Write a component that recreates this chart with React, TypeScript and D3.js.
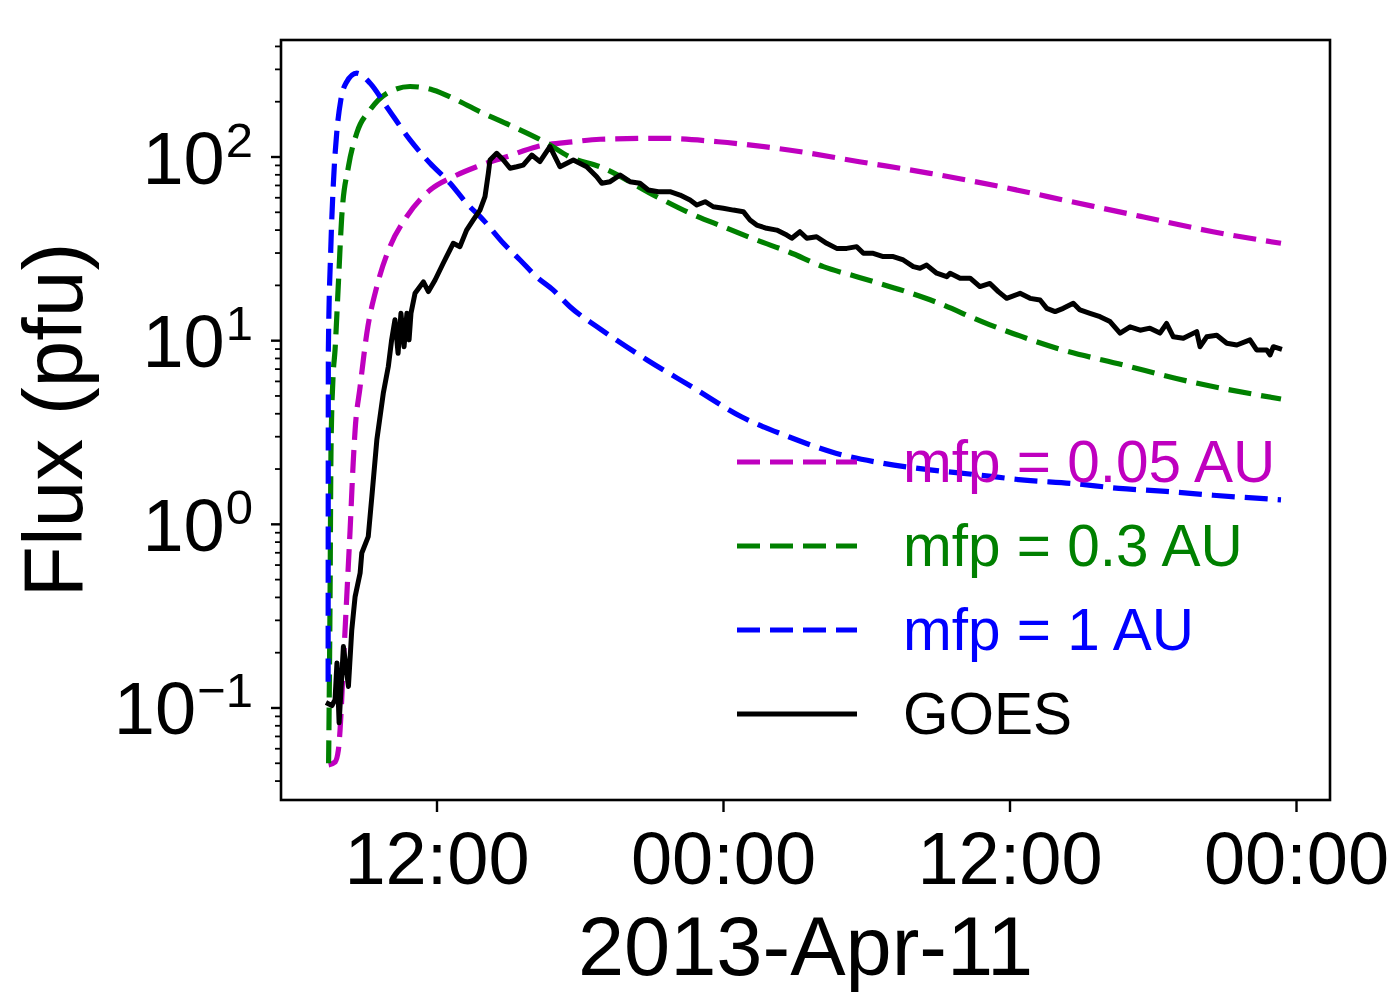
import React from "react";
import * as d3 from "d3";

// time axis: hours since 2013-04-11 00:00 UT
const T0 = Date.UTC(2013, 3, 11);
const hoursToDate = (h: number) => new Date(T0 + h * 3600e3);

// [hours, flux (pfu)]
const mfp005: [number, number][] = [
  [7.46, 0.049], [7.73, 0.0508], [7.87, 0.0591], [7.94, 0.0759], [8.08, 0.176], [8.22, 0.404],
  [8.36, 0.931], [8.49, 2.16], [8.57, 3.26], [8.78, 5.62], [9.06, 10.96], [9.48, 19.7],
  [10.03, 32.5], [10.73, 47.3], [11.71, 66.1], [12.68, 78.1], [13.66, 88.5], [14.92, 100.4],
  [16.18, 113.8], [17.71, 121.1], [18.83, 124.9], [21.4, 126.4], [23.77, 121.1], [26.73, 109.2],
  [29.69, 94.3], [32.65, 81.5], [35.62, 68.9], [38.58, 57.1], [41.55, 47.3], [44.5, 39.2],
  [47.35, 33.9],
];

const mfp03: [number, number][] = [
  [7.46, 0.05], [7.52, 0.387], [7.56, 2.54], [7.64, 6.11], [7.73, 8.9], [7.87, 20.6],
  [8.01, 47.3], [8.29, 88.5], [8.64, 135], [9.19, 180], [9.89, 222], [10.87, 242],
  [11.83, 232], [12.83, 204], [13.94, 173], [15.06, 149], [16.6, 119], [17.57, 100],
  [18.83, 88.5], [21.2, 60.8], [22.6, 49.4], [23.99, 41.7], [25.39, 35.3], [26.74, 30.4],
  [28.18, 25.3], [29.69, 22.1], [32.65, 16.7], [35.16, 12.2], [37.96, 9.09], [40.75, 7.37],
  [43.54, 5.98], [47.35, 4.81],
];

const mfp1: [number, number][] = [
  [7.44, 0.139], [7.45, 8.9], [7.55, 31.2], [7.66, 72.1], [7.8, 135], [7.97, 204],
  [8.19, 253], [8.64, 286], [9.19, 253], [9.89, 188], [10.87, 124], [11.71, 92.4],
  [12.55, 72.0], [13.24, 56.0], [13.94, 45.4], [14.78, 33.9], [15.48, 27.5], [16.18, 22.2],
  [16.86, 18.9], [17.57, 15.3], [18.83, 11.6], [20.8, 7.85], [22.76, 5.52], [24.75, 3.85],
  [26.73, 3.0], [28.7, 2.44], [30.68, 2.15], [32.65, 1.98], [34.64, 1.86], [36.61, 1.74],
  [38.58, 1.67], [40.56, 1.57], [42.53, 1.51], [44.51, 1.44], [47.35, 1.36],
];

const goes: [number, number][] = [
  [7.35, 0.107], [7.6, 0.103], [7.73, 0.111], [7.81, 0.176], [7.9, 0.083], [8.08, 0.216],
  [8.29, 0.131], [8.43, 0.266], [8.57, 0.404], [8.78, 0.543], [8.85, 0.698], [9.12, 0.857],
  [9.27, 1.41], [9.48, 2.88], [9.75, 5.17], [9.96, 7.22], [10.1, 10.1], [10.24, 13.0],
  [10.37, 8.53], [10.49, 14.1], [10.62, 9.27], [10.74, 14.1], [10.83, 10.1], [10.91, 14.1],
  [11.08, 18.1], [11.43, 20.9], [11.64, 18.5], [11.92, 21.4], [12.26, 26.4], [12.68, 33.9],
  [12.96, 32.5], [13.24, 40.0], [13.52, 45.4], [13.8, 51.4], [14.01, 60.8], [14.15, 81.5],
  [14.22, 96.3], [14.5, 104.7], [14.78, 96.3], [15.06, 86.8], [15.34, 88.5], [15.61, 90.4],
  [15.97, 102.5], [16.31, 94.3], [16.73, 113.8], [17.15, 88.5], [17.71, 96.3], [18.27, 88.5],
  [18.69, 78.1], [18.9, 71.9], [19.25, 73.4], [19.67, 79.8], [20.08, 73.4], [20.5, 71.9],
  [20.85, 66.1], [21.27, 64.7], [21.76, 64.7], [22.18, 62.1], [22.6, 58.3], [22.88, 54.8],
  [23.23, 57.1], [23.57, 53.6], [23.99, 52.6], [24.41, 51.4], [24.83, 50.4], [25.11, 45.4],
  [25.39, 42.6], [25.81, 40.9], [26.23, 40.0], [26.65, 37.6], [26.86, 36.1], [27.2, 39.2],
  [27.49, 36.1], [27.9, 36.8], [28.32, 33.9], [28.74, 31.8], [29.16, 31.8], [29.58, 32.5],
  [29.86, 29.9], [30.27, 29.9], [30.69, 28.7], [31.11, 28.7], [31.53, 27.5], [31.95, 25.3],
  [32.23, 24.8], [32.51, 25.8], [32.93, 23.3], [33.35, 22.3], [33.49, 23.3], [33.91, 21.9],
  [34.33, 21.9], [34.74, 19.7], [35.16, 20.5], [35.51, 18.5], [35.86, 17.0], [36.42, 18.1],
  [36.84, 17.0], [37.26, 16.65], [37.54, 15.0], [37.89, 14.4], [38.23, 15.0], [38.65, 16.0],
  [38.93, 14.7], [39.35, 14.1], [39.77, 13.5], [40.19, 12.7], [40.61, 11.0], [41.03, 11.9],
  [41.45, 11.4], [41.86, 11.7], [42.28, 11.0], [42.56, 12.4], [42.84, 10.5], [43.26, 10.3],
  [43.82, 11.2], [43.96, 9.27], [44.24, 10.5], [44.66, 10.7], [45.08, 9.68], [45.5, 9.47],
  [46.05, 10.1], [46.33, 8.9], [46.75, 8.9], [46.89, 8.36], [47.03, 9.27], [47.39, 8.97],
];

const seriesLabels = ["mfp = 0.05 AU", "mfp = 0.3 AU", "mfp = 1 AU", "GOES"];
const seriesColors = ["#bf00bf", "#008000", "#0000ff", "#000000"];
const seriesData = [mfp005, mfp03, mfp1, goes];
const seriesIsModel = [true, true, true, false];

const yTickExponents = [-1, 0, 1, 2];
const xHoursRange = [5.466, 49.403];
const yFluxRange = [0.03155, 433.6];

const FONT = "'Liberation Sans', Arial, Helvetica, sans-serif";

export default function App() {
  const width = 1400;
  const height = 1000;
  const plot = { left: 281, top: 40, right: 1330, bottom: 800 };

  const x = d3
    .scaleUtc()
    .domain([hoursToDate(xHoursRange[0]), hoursToDate(xHoursRange[1])])
    .range([plot.left, plot.right]);
  const y = d3.scaleLog().domain(yFluxRange).range([plot.bottom, plot.top]);

  // model curves are smooth, GOES data is drawn point to point
  const smoothLine = d3
    .line<[number, number]>()
    .x((d) => x(hoursToDate(d[0])))
    .y((d) => y(d[1]))
    .curve(d3.curveMonotoneX);
  const rawLine = d3
    .line<[number, number]>()
    .x((d) => x(hoursToDate(d[0])))
    .y((d) => y(d[1]));

  const xTicks = x.ticks(d3.utcHour.every(12)!);
  const fmt = d3.utcFormat("%H:%M");

  const minorTicks: number[] = [];
  for (let k = -2; k <= 2; k++) {
    for (let m = 2; m <= 9; m++) {
      const v = m * Math.pow(10, k);
      if (v >= yFluxRange[0] && v <= yFluxRange[1]) minorTicks.push(v);
    }
  }

  const legend = { x: 737, len: 120, textX: 903, y0: 462, gap: 84 };

  return (
    <svg
      width={width}
      height={height}
      style={{ position: "absolute", left: 0, top: 0, background: "#fff" }}
      fontFamily={FONT}
    >
      <rect x={0} y={0} width={width} height={height} fill="#fff" />
      <defs>
        <clipPath id="plot-clip">
          <rect x={plot.left} y={plot.top} width={plot.right - plot.left} height={plot.bottom - plot.top} />
        </clipPath>
      </defs>

      {/* data lines */}
      <g clipPath="url(#plot-clip)" fill="none">
        {seriesData.map((d, i) => (
          <path
            key={i}
            d={(seriesIsModel[i] ? smoothLine(d) : rawLine(d)) || ""}
            stroke={seriesColors[i]}
            strokeWidth={seriesIsModel[i] ? 5.2 : 5}
            strokeDasharray={seriesIsModel[i] ? "23 10" : undefined}
            strokeLinejoin="round"
          />
        ))}
      </g>

      {/* frame */}
      <rect
        x={plot.left}
        y={plot.top}
        width={plot.right - plot.left}
        height={plot.bottom - plot.top}
        fill="none"
        stroke="#000"
        strokeWidth={2.6}
      />

      {/* x ticks */}
      {xTicks.map((t, i) => (
        <g key={i}>
          <line x1={x(t)} x2={x(t)} y1={plot.bottom} y2={plot.bottom + 12} stroke="#000" strokeWidth={2.4} />
          <text x={x(t)} y={884} fontSize={74} textAnchor="middle">
            {fmt(t)}
          </text>
        </g>
      ))}

      {/* y ticks */}
      {minorTicks.map((v, i) => (
        <line key={i} x1={plot.left - 6} x2={plot.left} y1={y(v)} y2={y(v)} stroke="#000" strokeWidth={1.8} />
      ))}
      {yTickExponents.map((e) => {
        const yy = y(Math.pow(10, e));
        return (
          <g key={e}>
            <line x1={plot.left - 10} x2={plot.left} y1={yy} y2={yy} stroke="#000" strokeWidth={2.4} />
            <text x={253} y={yy + 26.5} fontSize={74} textAnchor="end">
              10
              <tspan dx={1} dy={-27} fontSize={49}>
                {e < 0 ? `\u2212${-e}` : `${e}`}
              </tspan>
            </text>
          </g>
        );
      })}

      {/* axis labels */}
      <text x={(plot.left + plot.right) / 2} y={975} fontSize={83} textAnchor="middle">
        2013-Apr-11
      </text>
      <text transform={`translate(82,${(plot.top + plot.bottom) / 2}) rotate(-90)`} fontSize={84} textAnchor="middle">
        Flux (pfu)
      </text>

      {/* legend */}
      {seriesLabels.map((s, i) => {
        const ly = legend.y0 + i * legend.gap;
        return (
          <g key={s}>
            <line
              x1={legend.x}
              x2={legend.x + legend.len}
              y1={ly}
              y2={ly}
              stroke={seriesColors[i]}
              strokeWidth={seriesIsModel[i] ? 5.2 : 5}
              strokeDasharray={seriesIsModel[i] ? "23 10" : undefined}
            />
            <text x={legend.textX} y={ly + 20} fontSize={58.5} fill={seriesColors[i]}>
              {s}
            </text>
          </g>
        );
      })}
    </svg>
  );
}
